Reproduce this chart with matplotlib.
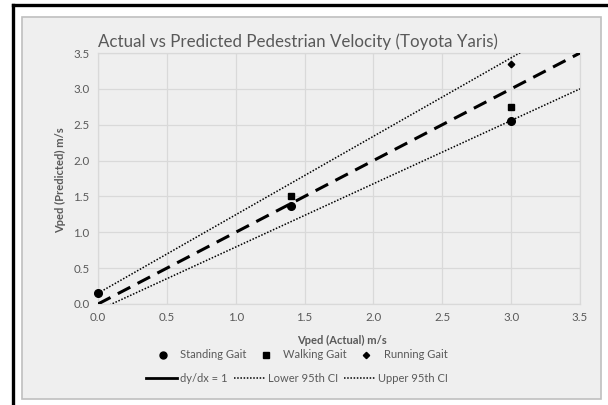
import matplotlib
matplotlib.use("Agg")
import matplotlib.pyplot as plt
from matplotlib.lines import Line2D
from matplotlib.patches import Rectangle

plt.rcParams['font.family'] = ['Lato', 'DejaVu Sans']

# Data
standing_x = [0.0, 1.4, 3.0]
standing_y = [0.15, 1.37, 2.55]
walking_x = [1.4, 3.0]
walking_y = [1.50, 2.75]
running_x = [3.0]
running_y = [3.35]
line_x = [0.0, 3.5]
unity_y = [0.0, 3.5]
lower_y = [-0.088, 3.0]
upper_y = [0.15, 3.98]
ticks = [0.0, 0.5, 1.0, 1.5, 2.0, 2.5, 3.0, 3.5]
tick_labels = ['0.0', '0.5', '1.0', '1.5', '2.0', '2.5', '3.0', '3.5']

W, H = 608, 405
fig = plt.figure(figsize=(W / 100, H / 100), dpi=100)
fig.patch.set_facecolor('white')

bg = '#efefef'
# chart area box
fig.add_artist(Rectangle((22 / W, 1 - 399 / H), 579 / W, 382 / H, transform=fig.transFigure,
                         facecolor=bg, edgecolor='#bfbfbf', lw=1.2, zorder=0))
# black frame lines (top & left)
fig.add_artist(Line2D([13 / W, 1.0], [1 - 5 / H, 1 - 5 / H], transform=fig.transFigure,
                      color='black', lw=2.4))
fig.add_artist(Line2D([13 / W, 13 / W], [0.0, 1 - 5 / H], transform=fig.transFigure,
                      color='black', lw=2.4))

ax = fig.add_axes([98 / W, 1 - 304 / H, (580 - 98) / W, (304 - 53) / H])
ax.set_facecolor(bg)
ax.set_xlim(0, 3.5)
ax.set_ylim(0, 3.5)
ax.set_xticks(ticks)
ax.set_xticklabels(tick_labels)
ax.set_yticks(ticks)
ax.set_yticklabels(tick_labels)
ax.grid(True, color='#d9d9d9', lw=0.9)
ax.set_axisbelow(True)
for s in ax.spines.values():
    s.set_color('#d9d9d9')
    s.set_linewidth(0.9)
ax.tick_params(length=0, labelsize=8.3, colors='#595959', pad=6)

dot = (0, (1, 1.1))
ax.plot(line_x, unity_y, color='black', lw=2.2, dashes=(4.6, 2.7), zorder=3)
ax.plot(line_x, lower_y, color='black', lw=1.1, linestyle=dot, zorder=3)
ax.plot(line_x, upper_y, color='black', lw=1.1, linestyle=dot, zorder=3)
ax.plot(standing_x, standing_y, 'o', color='black', ms=5.5, zorder=4, clip_on=False)
ax.plot(walking_x, walking_y, 's', color='black', ms=4.5, zorder=4, clip_on=False)
ax.plot(running_x, running_y, 'D', color='black', ms=3.3, zorder=4, clip_on=False)

fig.text(298 / W, 1 - 42 / H, 'Actual vs Predicted Pedestrian Velocity (Toyota Yaris)',
         ha='center', va='center', fontsize=12.2, color='#595959')
fig.text(342 / W, 1 - 340 / H, 'Vped (Actual) m/s', ha='center', va='center',
         fontsize=8, fontweight='bold', color='#595959')
fig.text(61 / W, 1 - 180 / H, 'Vped (Predicted) m/s', ha='center', va='center',
         rotation=90, fontsize=8, fontweight='bold', color='#595959')

h1 = [Line2D([], [], marker='o', ls='none', color='black', ms=5),
      Line2D([], [], marker='s', ls='none', color='black', ms=4.2),
      Line2D([], [], marker='D', ls='none', color='black', ms=3.2)]
l1 = ['Standing Gait', 'Walking Gait', 'Running Gait']
fig.legend(h1, l1, loc='center', bbox_to_anchor=(301 / W, 1 - 355 / H), ncol=3,
           frameon=False, fontsize=8, labelcolor='#595959', handlelength=1.5,
           columnspacing=1.0, handletextpad=0.8)
h2 = [Line2D([], [], color='black', lw=2.0),
      Line2D([], [], color='black', lw=1.1, linestyle=dot),
      Line2D([], [], color='black', lw=1.1, linestyle=dot)]
l2 = ['dy/dx = 1', 'Lower 95th CI', 'Upper 95th CI']
fig.legend(h2, l2, loc='center', bbox_to_anchor=(297 / W, 1 - 378 / H), ncol=3,
           frameon=False, fontsize=8, labelcolor='#595959', handlelength=2.8,
           columnspacing=0.5, handletextpad=0.3)

fig.savefig('out.png', dpi=100)
